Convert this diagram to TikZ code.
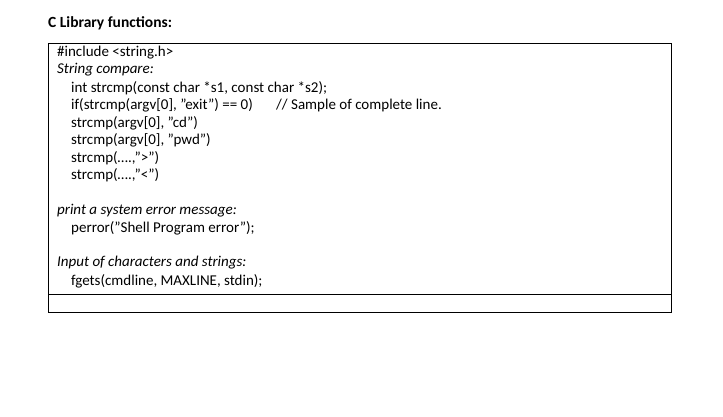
\documentclass[tikz,border=0pt]{standalone}
\usepackage{fontspec}
\setmainfont{Carlito}
\newcommand\qq{\char34\relax}
\begin{document}
\begin{tikzpicture}[x=1pt,y=-1pt,
  txt/.style={anchor=west,inner sep=0pt,font=\fontsize{15}{18}\selectfont},
  frame/.style={draw=black,line width=0.8pt}]
\useasboundingbox (0,0) rectangle (723,416);
\node[txt,font=\fontsize{15.5}{18}\selectfont\bfseries] (title) at (48,23) {C Library functions:};
\draw[frame] (48,43) rectangle (671,312);
\draw[frame] (48,294) -- (671,294);
\node[txt] (l1) at (57,53) {\#include <string.h>};
\node[txt] (l2) at (57,70) {\itshape String compare:};
\node[txt] (l3) at (71,88) {int strcmp(const char *s1, const char *s2);};
\node[txt] (l4) at (71,105) {if(strcmp(argv[0], \qq exit\qq) == 0)};
\node[txt] (l4b) at (276,105) {// Sample of complete line.};
\node[txt] (l5) at (71,123) {strcmp(argv[0], \qq cd\qq)};
\node[txt] (l6) at (71,140) {strcmp(argv[0], \qq pwd\qq)};
\node[txt] (l7) at (71,158) {strcmp(….,\qq>\qq)};
\node[txt] (l8) at (71,175) {strcmp(….,\qq<\qq)};
\node[txt] (l9) at (57,211) {\itshape print a system error message:};
\node[txt] (l10) at (71,228) {perror(\qq Shell Program error\qq);};
\node[txt] (l11) at (57,263) {\itshape Input of characters and strings:};
\node[txt] (l12) at (71,281) {fgets(cmdline, MAXLINE, stdin);};
\end{tikzpicture}
\end{document}
